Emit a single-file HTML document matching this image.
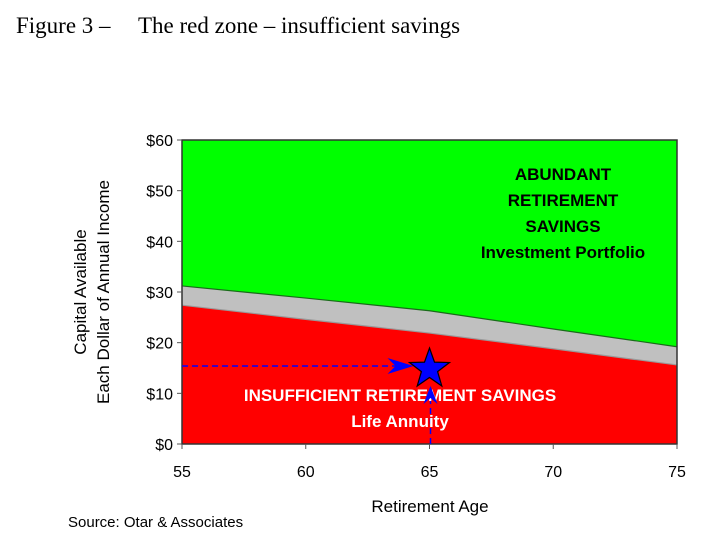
<!DOCTYPE html>
<html><head><meta charset="utf-8"><style>
body{margin:0;background:#fff;width:720px;height:549px;overflow:hidden}
svg{display:block}
</style></head><body>
<svg id="chart" width="720" height="549" xmlns="http://www.w3.org/2000/svg">
<text x="16" y="33" font-family="Liberation Serif, serif" font-size="23">Figure 3 –<tspan x="138">The red zone – insufficient savings</tspan></text>
<g id="plot"></g>
</svg>
<script>
const ages = [55, 60, 65, 70, 75];
const upperValues = [31.2, 28.8, 26.3, 22.7, 19.2];
const lowerValues = [27.4, 24.6, 21.9, 18.8, 15.6];
const yTicks = [0, 10, 20, 30, 40, 50, 60];
const yTickLabels = ["$0", "$10", "$20", "$30", "$40", "$50", "$60"];
const xTickLabels = ["55", "60", "65", "70", "75"];
const starAge = 65;
const starValue = 15;

const X0 = 182, X1 = 677, Y0 = 444, Y1 = 140;
const xs = a => X0 + (a - 55) / 20 * (X1 - X0);
const ys = v => Y0 - v / 60 * (Y0 - Y1);
const NS = "http://www.w3.org/2000/svg";
const g = document.getElementById("plot");
function mk(tag, attrs, parent) {
  const e = document.createElementNS(NS, tag);
  for (const k in attrs) e.setAttribute(k, attrs[k]);
  (parent || g).appendChild(e);
  return e;
}
function pts(vals) { return ages.map((a, i) => xs(a) + "," + ys(vals[i])).join(" "); }

let el = mk("rect", {x: X0, y: Y1, width: X1 - X0, height: Y0 - Y1, fill: "#00ff00"});


el = mk("polygon", {points: xs(55) + "," + Y0 + " " + pts(upperValues) + " " + xs(75) + "," + Y0, fill: "#c0c0c0"});


el = mk("polyline", {points: pts(upperValues), fill: "none", stroke: "#1a6b1a", "stroke-width": 1.2});


el = mk("polygon", {points: xs(55) + "," + Y0 + " " + pts(lowerValues) + " " + xs(75) + "," + Y0, fill: "#ff0000"});


el = mk("polyline", {points: pts(lowerValues), fill: "none", stroke: "#999", "stroke-width": 1.2});


el = mk("rect", {x: X0, y: Y1, width: X1 - X0, height: Y0 - Y1, fill: "none", stroke: "#333", "stroke-width": 1.5});



yTicks.forEach((v, i) => {
  let t = mk("line", {x1: X0 - 5, x2: X0, y1: ys(v), y2: ys(v), stroke: "#555"});
  
  
  let l = mk("text", {x: X0 - 9, y: ys(v) + 6, "text-anchor": "end", "font-family": "Liberation Sans, sans-serif", "font-size": 16});
  l.textContent = yTickLabels[i];
  
  
});
ages.forEach((a, i) => {
  let t = mk("line", {x1: xs(a), x2: xs(a), y1: Y0, y2: Y0 + 5, stroke: "#555"});
  
  
  let l = mk("text", {x: xs(a), y: 477, "text-anchor": "middle", "font-family": "Liberation Sans, sans-serif", "font-size": 16});
  l.textContent = xTickLabels[i];
  
  
});

const sx = xs(starAge), sy = ys(starValue);
el = mk("line", {x1: X0, y1: sy - 2, x2: sx - 30, y2: sy - 2, stroke: "#0000ff", "stroke-width": 1.5, "stroke-dasharray": "6,4"});


el = mk("polygon", {points: (sx - 16) + "," + (sy - 2) + " " + (sx - 42) + "," + (sy - 10) + " " + (sx - 34) + "," + (sy - 2) + " " + (sx - 42) + "," + (sy + 6), fill: "#0000ff"});


el = mk("line", {x1: sx + 1, y1: Y0, x2: sx + 1, y2: sy + 30, stroke: "#0000ff", "stroke-width": 1.5, "stroke-dasharray": "6,4"});



function starPts(cx, cy, R, r) {
  let p = [];
  for (let i = 0; i < 10; i++) {
    const ang = -Math.PI / 2 + i * Math.PI / 5;
    const rad = i % 2 ? r : R;
    p.push((cx + rad * Math.cos(ang)).toFixed(1) + "," + (cy + rad * Math.sin(ang)).toFixed(1));
  }
  return p.join(" ");
}
el = mk("polygon", {points: starPts(sx, sy + 1, 21, 8.5), fill: "#0000ff", stroke: "#000", "stroke-width": 1.2});



function txt(x, y, s, size, fill, name, anchor, weight) {
  let t = mk("text", {x: x, y: y, "text-anchor": anchor || "middle", "font-family": "Liberation Sans, sans-serif", "font-size": size, "font-weight": weight || "normal", fill: fill});
  t.textContent = s;
  
  
  return t;
}
txt(563, 180, "ABUNDANT", 17, "#000", "abundant-label", "middle", "bold");
txt(563, 206, "RETIREMENT", 17, "#000", "abundant-label", "middle", "bold");
txt(563, 232, "SAVINGS", 17, "#000", "abundant-label", "middle", "bold");
txt(563, 258, "Investment Portfolio", 17, "#000", "investment-portfolio-label", "middle", "bold");
txt(400, 401, "INSUFFICIENT RETIREMENT SAVINGS", 17, "#fff", "insufficient-label", "middle", "bold");
txt(400, 427, "Life Annuity", 17, "#fff", "life-annuity-label", "middle", "bold");

el = mk("polygon", {points: (sx + 1) + "," + (sy + 18) + " " + (sx - 6) + "," + (sy + 36) + " " + (sx + 1) + "," + (sy + 30) + " " + (sx + 8) + "," + (sy + 36), fill: "#0000ff"});



txt(430, 512, "Retirement Age", 17, "#000", "x-axis-title");
txt(68, 527, "Source: Otar & Associates", 15, "#000", "source-note", "start");
let yt = txt(0, 0, "Capital Available", 17, "#000", "y-axis-title");
yt.setAttribute("transform", "translate(86,292) rotate(-90)");
let yt2 = txt(0, 0, "Each Dollar of Annual Income", 17, "#000", "y-axis-title-line2");
yt2.setAttribute("transform", "translate(109,292) rotate(-90)");
</script>
</body></html>
